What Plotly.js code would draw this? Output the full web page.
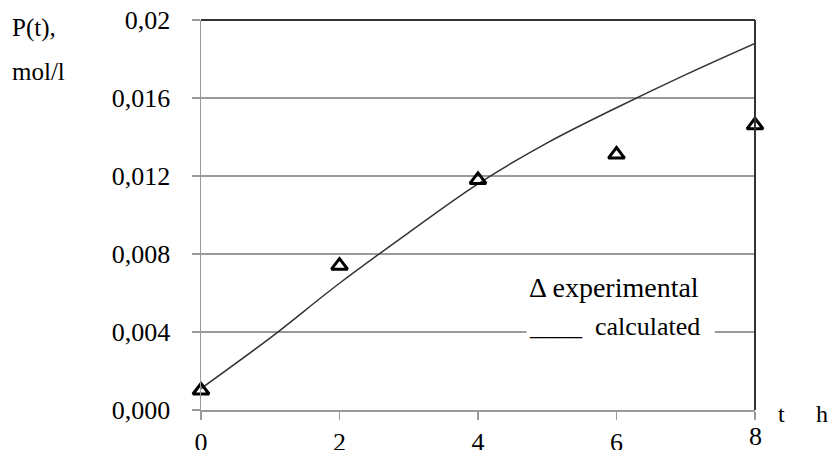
<!DOCTYPE html>
<html>
<head>
<meta charset="utf-8">
<script src="https://cdn.plot.ly/plotly-3.0.1.min.js"></script>
<style>
  html, body { margin: 0; padding: 0; background: #ffffff; }
  #chart { width: 832px; height: 450px; }
</style>
</head>
<body>
<div id="chart"></div>
<script>
// Product concentration P(t) versus time t (h)
var expTime = [0, 2, 4, 6, 8];
var expConc = [0.0010, 0.0074, 0.0118, 0.0131, 0.0146];

var calcTime = [0, 1, 2, 3, 4, 5, 6, 7, 8];
var calcConc = [0.0011, 0.0037, 0.0065, 0.0091, 0.0116, 0.0137, 0.0155, 0.0172, 0.0188];

var yTickVals = [0, 0.004, 0.008, 0.012, 0.016, 0.02];
var yTickText = ['0,000', '0,004', '0,008', '0,012', '0,016', '0,02'];
var xTickVals = [0, 2, 4, 6, 8];
var xTickText = ['0', '2', '4', '6', ''];

var serif = 'Liberation Serif, Times New Roman, serif';
var grid = '#9a9a9a';
var dark = '#333333';

var traces = [
  {
    x: calcTime, y: calcConc,
    type: 'scatter', mode: 'lines',
    line: { color: dark, width: 1.5, shape: 'spline', smoothing: 1 },
    hoverinfo: 'skip'
  },
  {
    x: expTime, y: expConc,
    type: 'scatter', mode: 'markers',
    marker: { symbol: 'triangle-up-open', size: 14, color: '#000000', line: { color: '#000000', width: 3 } },
    cliponaxis: false,
    hoverinfo: 'skip'
  }
];

var layout = {
  width: 832, height: 450,
  margin: { l: 201, r: 77, t: 20, b: 40 },
  paper_bgcolor: '#ffffff', plot_bgcolor: '#ffffff',
  showlegend: false,
  font: { family: serif, color: '#000000' },
  xaxis: {
    range: [0, 8], tickvals: xTickVals, ticktext: xTickText,
    showgrid: false, zeroline: false,
    showline: true, linecolor: grid, linewidth: 1.5,
    ticks: 'outside', ticklen: 8, tickcolor: grid, tickwidth: 1.5,
    tickfont: { family: serif, size: 26, color: '#000000' },
    ticklabelstandoff: 0
  },
  yaxis: {
    range: [0, 0.02], tickvals: yTickVals, ticktext: yTickText,
    showgrid: true, gridcolor: grid, gridwidth: 1.2, zeroline: false,
    showline: true, linecolor: grid, linewidth: 1.5,
    ticks: 'outside', ticklen: 8, tickcolor: grid, tickwidth: 1.2,
    tickfont: { family: serif, size: 26, color: '#000000' },
    ticklabelstandoff: 16
  },
  shapes: [
    // frame: dark top and right edges
    { type: 'line', xref: 'paper', yref: 'paper', x0: 0, x1: 1, y0: 1, y1: 1, line: { color: dark, width: 2 } },
    { type: 'line', xref: 'paper', yref: 'paper', x0: 1, x1: 1, y0: 0, y1: 1, line: { color: dark, width: 2 } },
    // white panel behind the key
    { type: 'rect', xref: 'x', yref: 'y', x0: 4.70, x1: 7.42, y0: 0.0022, y1: 0.0073,
      fillcolor: '#ffffff', line: { width: 0 }, layer: 'between' }
  ],
  annotations: [
    { text: 'P(t),', xref: 'paper', yref: 'paper', x: -0.345, y: 0.979, xanchor: 'left', yanchor: 'middle',
      showarrow: false, font: { family: serif, size: 25 } },
    { text: 'mol/l', xref: 'paper', yref: 'paper', x: -0.345, y: 0.867, xanchor: 'left', yanchor: 'middle',
      showarrow: false, font: { family: serif, size: 25 } },
    { text: 't', xref: 'paper', yref: 'paper', x: 1.047, y: -0.010, xanchor: 'center', yanchor: 'middle',
      showarrow: false, font: { family: serif, size: 24 } },
    { text: 'h', xref: 'paper', yref: 'paper', x: 1.121, y: -0.010, xanchor: 'center', yanchor: 'middle',
      showarrow: false, font: { family: serif, size: 24 } },
    { text: '8', xref: 'x', yref: 'paper', x: 8, y: -0.068, xanchor: 'center', yanchor: 'middle',
      showarrow: false, font: { family: serif, size: 26 } },
    { text: '\u0394 experimental', xref: 'x', yref: 'y', x: 4.71, y: 0.0063, xanchor: 'left', yanchor: 'middle',
      showarrow: false, font: { family: serif, size: 28 } },
    { text: '____  calculated', xref: 'x', yref: 'y', x: 4.71, y: 0.0043, xanchor: 'left', yanchor: 'middle',
      showarrow: false, font: { family: serif, size: 26 } }
  ]
};

Plotly.newPlot('chart', traces, layout, { staticPlot: true, displayModeBar: false });
</script>
</body>
</html>
